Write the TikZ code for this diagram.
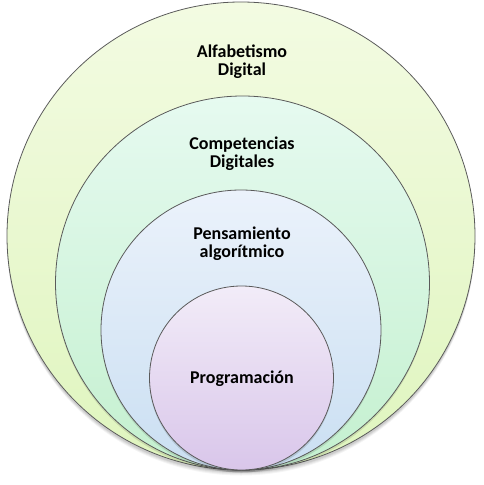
\documentclass[tikz,border=0pt]{standalone}
\usepackage{fontspec}
\setmainfont{Carlito}
\definecolor{bordc}{HTML}{5A5A5A}
\definecolor{yT}{HTML}{F3FBE2}
\definecolor{yB}{HTML}{DFF5BE}
\definecolor{gT}{HTML}{E6FAF0}
\definecolor{gB}{HTML}{C4F0CF}
\definecolor{bT}{HTML}{EBF2FB}
\definecolor{bB}{HTML}{CADFF2}
\definecolor{pT}{HTML}{F2ECF8}
\definecolor{pB}{HTML}{D9C6EA}
\tikzset{
  ring/.style={circle, draw=bordc, line width=0.8pt, inner sep=0pt},
  shad/.style={circle, fill=black, inner sep=0pt, draw=none},
  lbl/.style={font=\bfseries\fontsize{18}{18}\selectfont, align=center, text=black}
}
\begin{document}
\begin{tikzpicture}[x=1pt,y=-1pt]
\useasboundingbox (0,0) rectangle (484,485);
% shadows
\foreach \d/\o in {5/0.04,4/0.05,3/0.06,2/0.07}{
  \fill[black,opacity=\o] (241,236.5+\d) circle (234);
}
% circles
\node[ring, minimum size=468pt, top color=yT, bottom color=yB] (c1) at (241,236) {};
\node[shad, opacity=0.10, minimum size=374pt] (s2) at (242.5,285.5) {};
\node[ring, minimum size=374pt, top color=gT, bottom color=gB] (c2) at (242.5,283) {};
\node[shad, opacity=0.10, minimum size=280pt] (s3) at (241,332.5) {};
\node[ring, minimum size=280pt, top color=bT, bottom color=bB] (c3) at (241,330) {};
\node[shad, opacity=0.12, minimum size=184pt] (s4) at (241.5,380.5) {};
\node[ring, minimum size=184pt, top color=pT, bottom color=pB] (c4) at (241.5,378) {};
% labels
\node[lbl] (t1) at (242,62) {Alfabetismo\\Digital};
\node[lbl] (t2) at (242,154) {Competencias\\Digitales};
\node[lbl] (t3) at (242,244) {Pensamiento\\algorítmico};
\node[lbl] (t4) at (242,379) {Programación};
\end{tikzpicture}
\end{document}
